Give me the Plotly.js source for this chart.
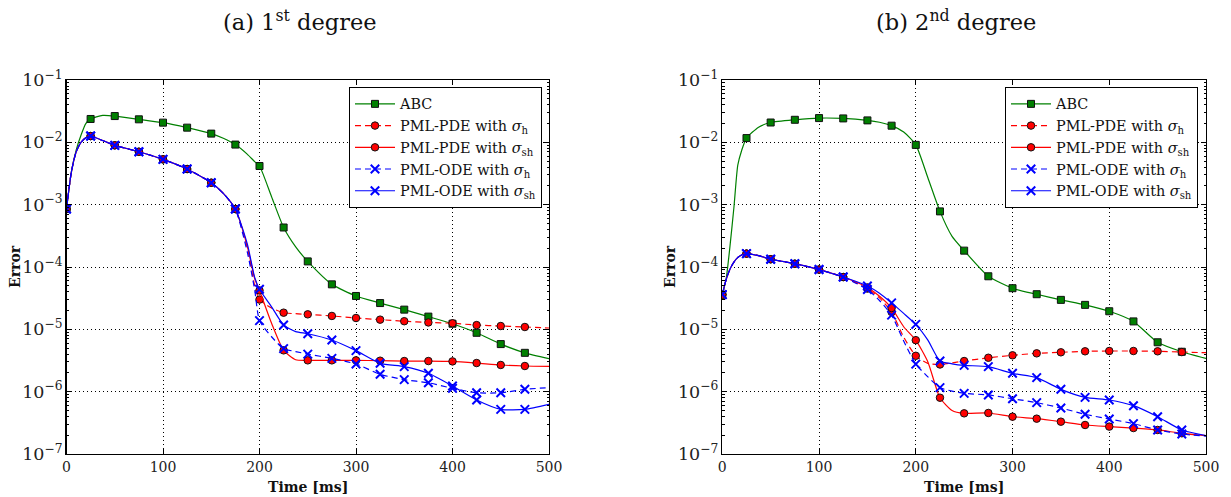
<!DOCTYPE html>
<html><head><meta charset="utf-8">
<script src="https://cdn.plot.ly/plotly-3.0.1.min.js"></script>
<style>html,body{margin:0;padding:0;background:#fff}#chart{width:1231px;height:497px}</style>
</head><body><div id="chart"></div>
<script>
// ---------- Panel (a): 1st degree ----------
const timeA = [0,5,10,15,20,25,37.5,50,75,100,125,150,162.5,175,187.5,195,200,212.5,225,237.5,250,275,300,325,350,375,400,425,450,475,500];
const abcA   = [8.5e-4,3.3e-3,7.5e-3,1.3e-2,2.0e-2,2.37e-2,2.7e-2,2.64e-2,2.34e-2,2.07e-2,1.72e-2,1.38e-2,1.16e-2,9.2e-3,6.4e-3,4.9e-3,4.17e-3,1.34e-3,4.3e-4,2.1e-4,1.23e-4,5.27e-5,3.43e-5,2.64e-5,2.07e-5,1.6e-5,1.23e-5,8.8e-6,5.8e-6,4.2e-6,3.4e-6];
const pdeHA  = [8.5e-4,3.3e-3,7.0e-3,1.0e-2,1.18e-2,1.26e-2,1.07e-2,8.95e-3,7.07e-3,5.33e-3,3.73e-3,2.25e-3,1.52e-3,8.5e-4,2.0e-4,5.0e-5,3.0e-5,2.2e-5,1.85e-5,1.78e-5,1.74e-5,1.64e-5,1.52e-5,1.43e-5,1.35e-5,1.29e-5,1.25e-5,1.17e-5,1.13e-5,1.09e-5,1.05e-5];
const pdeShA = [8.5e-4,3.3e-3,7.0e-3,1.0e-2,1.18e-2,1.26e-2,1.07e-2,8.95e-3,7.07e-3,5.33e-3,3.73e-3,2.25e-3,1.52e-3,8.5e-4,2.1e-4,6.5e-5,4.2e-5,1.25e-5,4.6e-6,3.25e-6,3.18e-6,3.18e-6,3.18e-6,3.14e-6,3.1e-6,3.1e-6,3.06e-6,2.88e-6,2.68e-6,2.58e-6,2.55e-6];
const odeHA  = [8.5e-4,3.3e-3,7.0e-3,1.0e-2,1.18e-2,1.26e-2,1.07e-2,8.95e-3,7.07e-3,5.33e-3,3.73e-3,2.25e-3,1.52e-3,8.5e-4,1.7e-4,4.3e-5,1.38e-5,7.6e-6,4.9e-6,4.4e-6,4.0e-6,3.42e-6,2.78e-6,1.9e-6,1.56e-6,1.39e-6,1.13e-6,9.6e-7,9.6e-7,1.09e-6,1.16e-6];
const odeShA = [8.5e-4,3.3e-3,7.0e-3,1.0e-2,1.18e-2,1.26e-2,1.07e-2,8.95e-3,7.07e-3,5.33e-3,3.73e-3,2.25e-3,1.52e-3,8.5e-4,2.3e-4,6.8e-5,4.4e-5,2.3e-5,1.17e-5,9.2e-6,8.5e-6,6.74e-6,4.55e-6,2.85e-6,2.52e-6,1.97e-6,1.23e-6,7.35e-7,5.2e-7,5.2e-7,6.26e-7];

// ---------- Panel (b): 2nd degree ----------
const timeB = [0,4,8,12,16,20,25,37.5,50,75,100,125,150,162.5,175,187.5,200,212.5,225,237.5,250,275,300,325,350,375,400,425,450,475,500];
const abcB   = [3.6e-5,6.5e-5,2.2e-4,9e-4,4.3e-3,7.4e-3,1.17e-2,1.75e-2,2.08e-2,2.3e-2,2.45e-2,2.42e-2,2.25e-2,2.1e-2,1.85e-2,1.46e-2,9.1e-3,2.7e-3,7.8e-4,3.1e-4,1.83e-4,7.1e-5,4.57e-5,3.66e-5,2.97e-5,2.47e-5,1.95e-5,1.34e-5,6.2e-6,4.37e-6,3.41e-6];
const pdeHB  = [3.6e-5,6.3e-5,9.3e-5,1.2e-4,1.42e-4,1.56e-4,1.64e-4,1.52e-4,1.33e-4,1.13e-4,9.1e-5,6.9e-5,4.5e-5,3.2e-5,1.9e-5,7.5e-6,3.76e-6,2.85e-6,2.73e-6,2.9e-6,3.1e-6,3.5e-6,3.83e-6,4.12e-6,4.28e-6,4.44e-6,4.49e-6,4.49e-6,4.44e-6,4.32e-6,4.22e-6];
const pdeShB = [3.6e-5,6.3e-5,9.3e-5,1.2e-4,1.42e-4,1.56e-4,1.64e-4,1.52e-4,1.33e-4,1.13e-4,9.1e-5,6.9e-5,4.7e-5,3.4e-5,2.2e-5,1.1e-5,6.7e-6,3.0e-6,8.0e-7,5.0e-7,4.49e-7,4.55e-7,3.97e-7,3.69e-7,3.3e-7,2.92e-7,2.75e-7,2.61e-7,2.43e-7,2.15e-7,1.97e-7];
const odeHB  = [3.6e-5,6.3e-5,9.3e-5,1.2e-4,1.42e-4,1.56e-4,1.64e-4,1.52e-4,1.33e-4,1.13e-4,9.1e-5,6.9e-5,4.35e-5,2.9e-5,1.69e-5,6.5e-6,2.77e-6,1.73e-6,1.16e-6,1.02e-6,9.4e-7,8.85e-7,7.7e-7,6.67e-7,5.47e-7,4.33e-7,3.64e-7,3.07e-7,2.43e-7,2.09e-7,1.94e-7];
const odeShB = [3.6e-5,6.3e-5,9.3e-5,1.2e-4,1.42e-4,1.56e-4,1.64e-4,1.52e-4,1.33e-4,1.13e-4,9.1e-5,6.9e-5,4.97e-5,3.8e-5,2.66e-5,1.8e-5,1.2e-5,6.7e-6,3.1e-6,2.8e-6,2.64e-6,2.52e-6,1.97e-6,1.68e-6,1.09e-6,8.1e-7,7.35e-7,5.96e-7,3.97e-7,2.43e-7,1.97e-7];

const seriesNames = ['ABC','PML-PDE with <i>σ</i><sub>h</sub>','PML-PDE with <i>σ</i><sub>sh</sub>','PML-ODE with <i>σ</i><sub>h</sub>','PML-ODE with <i>σ</i><sub>sh</sub>'];
const panelTitles = ['(a) 1<sup>st</sup> degree','(b) 2<sup>nd</sup> degree'];
const markerStep = 25;

const FONT = 'DejaVu Serif';
const styles = [
  {color:'#008000', dash:'solid', symbol:'square', size:7, mline:{color:'#111',width:1}},
  {color:'#ff0000', dash:'6px,4px', symbol:'circle', size:7.5, mline:{color:'#111',width:1}},
  {color:'#ff0000', dash:'solid', symbol:'circle', size:7.5, mline:{color:'#111',width:1}},
  {color:'#0000ff', dash:'6px,4px', symbol:'x-thin', size:8.5, mline:{color:'#0000ff',width:2}},
  {color:'#0000ff', dash:'solid', symbol:'x-thin', size:8.5, mline:{color:'#0000ff',width:2}}
];

function makeTraces(t, vals, xa, ya, legendId) {
  const sel = [];
  t.forEach((v,i)=>{ if (v % markerStep === 0 && v < 500) sel.push(i); });
  return vals.map((v,k)=>({
    type:'scatter', mode:'lines+markers', x:t, y:v, xaxis:xa, yaxis:ya,
    name:seriesNames[k], legend:legendId, hoverinfo:'skip',
    line:{color:styles[k].color, width:1.2, dash:styles[k].dash, shape:'spline', smoothing:0.6},
    marker:{symbol:styles[k].symbol, size:styles[k].size, color:styles[k].color, line:styles[k].mline},
    selectedpoints: sel,
    selected:{marker:{opacity:1}},
    unselected:{marker:{opacity:0}}
  }));
}

const data = [
  ...makeTraces(timeA, [abcA,pdeHA,pdeShA,odeHA,odeShA], 'x', 'y', 'legend'),
  ...makeTraces(timeB, [abcB,pdeHB,pdeShB,odeHB,odeShB], 'x2', 'y2', 'legend2')
];

const W = 1231, H = 497;
const px = v => v / W, py = v => 1 - v / H;

function xAxis(d, anchor) {
  return {domain:d, anchor:anchor, range:[0,500], dtick:100, tick0:0,
    showline:true, linecolor:'#000', linewidth:1.2, mirror:'ticks',
    ticks:'inside', ticklen:5, tickcolor:'#000',
    showgrid:true, gridcolor:'#000', gridwidth:1, griddash:'1px,3px',
    zeroline:false, tickfont:{family:FONT, size:14, color:'#222'}, automargin:false};
}
function yAxis(anchor) {
  return {domain:[py(454), py(80)], anchor:anchor, type:'log', range:[-7,-1], dtick:1,
    exponentformat:'power',
    showline:true, linecolor:'#000', linewidth:1.2, mirror:'ticks',
    ticks:'inside', ticklen:5, tickcolor:'#000',
    minor:{ticks:'inside', ticklen:2.5, tickcolor:'#000', showgrid:false},
    showgrid:true, gridcolor:'#000', gridwidth:1, griddash:'1px,3px',
    zeroline:false, tickfont:{family:FONT, size:14, color:'#222'}, automargin:false};
}

const legendBase = {bgcolor:'#fff', bordercolor:'#000', borderwidth:1, itemwidth:40,
  font:{family:FONT, size:14.4, color:'#111'}, xanchor:'right', yanchor:'top', y:py(87), tracegroupgap:0};

const ann = (text, x, y, size, extra={}) => Object.assign({text, x:px(x), y:py(y), xref:'paper', yref:'paper',
  showarrow:false, xanchor:'center', yanchor:'middle', font:{family:FONT, size:size, color:'#111'}}, extra);

const layout = {
  width:W, height:H, margin:{l:0,r:0,t:0,b:0},
  font:{family:FONT},
  paper_bgcolor:'#fff', plot_bgcolor:'#fff', showlegend:true,
  xaxis: xAxis([px(66.5), px(549)], 'y'),
  yaxis: yAxis('x'),
  xaxis2: xAxis([px(722.3), px(1206)], 'y2'),
  yaxis2: yAxis('x2'),
  legend: Object.assign({}, legendBase, {x:px(542)}),
  legend2: Object.assign({}, legendBase, {x:px(1198)}),
  annotations:[
    ann(panelTitles[0], 300, 20, 22.5),
    ann(panelTitles[1], 956, 20, 22.5),
    ann('<b>Time [ms]</b>', 307.5, 487, 14),
    ann('<b>Time [ms]</b>', 964, 487, 14),
    ann('<b>Error</b>', 15, 267, 14, {textangle:-90}),
    ann('<b>Error</b>', 670, 267, 14, {textangle:-90})
  ]
};

Plotly.newPlot('chart', data, layout, {staticPlot:true, displayModeBar:false});
</script>
</body></html>
